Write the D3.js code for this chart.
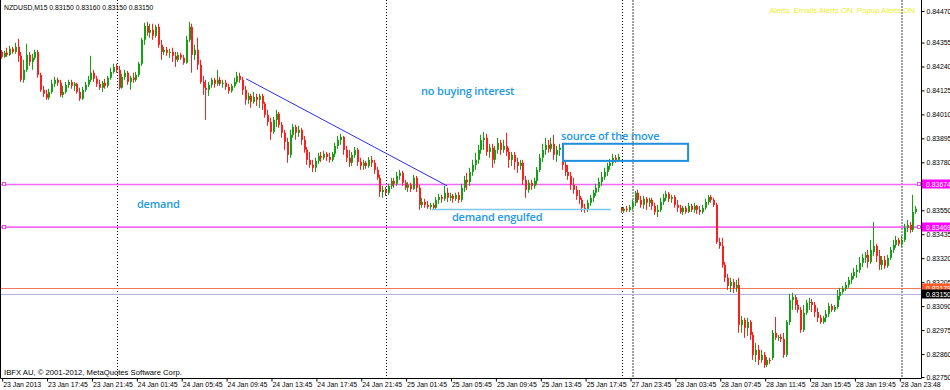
<!DOCTYPE html>
<html>
<head>
<meta charset="utf-8">
<script src="https://cdn.jsdelivr.net/npm/d3@7"></script>
<style>
  body { margin: 0; background: #ffffff; }
  svg { display: block; font-family: Tahoma, "Liberation Sans", Arial, sans-serif; }
</style>
</head>
<body>
<div id="chart"></div>
<script>
// NZDUSD M15, prices in points (1 point = 0.00001)
const opens = [
  84310, 84286, 84306, 84296, 84325, 84310, 84334, 84291, 84176, 84224,
  84296, 84262, 84282, 84310, 84200, 84128, 84109, 84090, 84118, 84157,
  84176, 84162, 84104, 84118, 84152, 84166, 84147, 84157, 84118, 84085,
  84128, 84152, 84176, 84210, 84181, 84157, 84138, 84162, 84147, 84186,
  84214, 84238, 84224, 84138, 84190, 84210, 84166, 84186, 84176, 84200,
  84253, 84368, 84435, 84402, 84416, 84387, 84430, 84344, 84310, 84320,
  84306, 84310, 84291, 84272, 84296, 84282, 84258, 84368, 84430, 84296,
  84320, 84248, 84166, 84138, 84128, 84152, 84176, 84157, 84176, 84157,
  84162, 84142, 84123, 84147, 84166, 84195, 84176, 84128, 84080, 84099,
  84070, 84094, 84080, 84099, 84061, 84008, 83974, 83926, 83984, 84013,
  83960, 83922, 83878, 83816, 83912, 83950, 83922, 83936, 83888, 83840,
  83792, 83768, 83754, 83787, 83811, 83802, 83821, 83806, 83792, 83821,
  83859, 83888, 83902, 83840, 83802, 83778, 83816, 83840, 83782, 83763,
  83778, 83763, 83792, 83778, 83744, 83706, 83638, 83648, 83634, 83667,
  83691, 83677, 83715, 83730, 83682, 83658, 83672, 83653, 83706, 83658,
  83576, 83590, 83576, 83566, 83576, 83562, 83600, 83614, 83605, 83634,
  83610, 83619, 83605, 83624, 83600, 83658, 83696, 83686, 83734, 83768,
  83792, 83840, 83888, 83898, 83830, 83850, 83792, 83840, 83874, 83840,
  83859, 83830, 83792, 83816, 83782, 83763, 83778, 83696, 83648, 83682,
  83667, 83691, 83744, 83802, 83840, 83864, 83845, 83869, 83816, 83840,
  83840, 83768, 83734, 83715, 83672, 83648, 83619, 83600, 83562, 83552,
  83586, 83610, 83634, 83658, 83686, 83710, 83734, 83763, 83778, 83802,
  83792, 83562, 83547, 83557, 83552, 83566, 83586, 83634, 83600, 83576,
  83605, 83586, 83600, 83571, 83542, 83552, 83590, 83610, 83629, 83605,
  83614, 83576, 83562, 83542, 83562, 83542, 83571, 83552, 83571, 83552,
  83542, 83562, 83590, 83614, 83600, 83576, 83398, 83379, 83288, 83226,
  83187, 83206, 83178, 83192, 83000, 83024, 82986, 83014, 82952, 82856,
  82880, 82832, 82856, 82808, 82832, 82842, 82962, 82938, 82942, 82933,
  82856, 83014, 83120, 83134, 83096, 83072, 82976, 83058, 83106, 83110,
  83096, 83062, 83034, 83014, 83034, 83053, 83091, 83072, 83086, 83139,
  83158, 83173, 83192, 83216, 83235, 83254, 83264, 83298, 83322, 83336,
  83302, 83350, 83379, 83331, 83288, 83312, 83283, 83322, 83360, 83384,
  83408, 83389, 83408, 83466, 83480, 83456, 83542,
];
const highs = [
  84320, 84315, 84330, 84339, 84334, 84354, 84373, 84310, 84272, 84349,
  84310, 84301, 84320, 84320, 84210, 84147, 84128, 84133, 84176, 84190,
  84186, 84176, 84147, 84166, 84176, 84176, 84166, 84162, 84138, 84142,
  84166, 84195, 84291, 84224, 84195, 84176, 84171, 84181, 84195, 84234,
  84253, 84253, 84243, 84205, 84224, 84219, 84195, 84210, 84214, 84262,
  84378, 84450, 84454, 84445, 84445, 84440, 84445, 84368, 84334, 84334,
  84325, 84330, 84310, 84310, 84306, 84296, 84387, 84454, 84445, 84344,
  84378, 84272, 84195, 84176, 84166, 84186, 84186, 84224, 84190, 84176,
  84176, 84157, 84157, 84186, 84214, 84210, 84190, 84147, 84114, 84109,
  84118, 84109, 84109, 84109, 84070, 84032, 83994, 83998, 84032, 84022,
  83974, 83936, 83898, 83936, 83965, 83960, 83955, 83946, 83907, 83854,
  83830, 83792, 83802, 83826, 83830, 83835, 83830, 83826, 83830, 83874,
  83907, 83917, 83907, 83859, 83840, 83830, 83854, 83850, 83802, 83792,
  83787, 83806, 83811, 83792, 83758, 83720, 83667, 83662, 83677, 83706,
  83706, 83734, 83744, 83739, 83696, 83686, 83682, 83720, 83715, 83672,
  83610, 83605, 83595, 83586, 83586, 83614, 83629, 83624, 83667, 83658,
  83634, 83629, 83634, 83638, 83677, 83715, 83730, 83754, 83792, 83826,
  83864, 83912, 83926, 83917, 83869, 83869, 83859, 83898, 83888, 83888,
  83922, 83850, 83830, 83830, 83802, 83792, 83792, 83715, 83696, 83696,
  83706, 83758, 83821, 83869, 83898, 83888, 83898, 83912, 83859, 83869,
  83859, 83792, 83768, 83734, 83706, 83667, 83648, 83610, 83581, 83600,
  83624, 83648, 83677, 83706, 83734, 83754, 83778, 83797, 83821, 83816,
  83821, 83566, 83566, 83571, 83576, 83600, 83643, 83648, 83619, 83619,
  83614, 83610, 83610, 83586, 83576, 83610, 83629, 83643, 83638, 83624,
  83624, 83600, 83576, 83571, 83571, 83586, 83581, 83586, 83576, 83571,
  83576, 83605, 83624, 83624, 83610, 83586, 83418, 83418, 83302, 83245,
  83226, 83221, 83216, 83226, 83043, 83034, 83034, 83024, 82966, 82914,
  82904, 82880, 82870, 82846, 82842, 82976, 83038, 82952, 82957, 82962,
  83024, 83149, 83154, 83144, 83120, 83086, 83096, 83120, 83130, 83125,
  83110, 83082, 83048, 83043, 83072, 83106, 83101, 83096, 83168, 83178,
  83187, 83206, 83230, 83250, 83274, 83288, 83326, 83341, 83350, 83360,
  83408, 83494, 83389, 83360, 83331, 83331, 83336, 83374, 83408, 83427,
  83418, 83427, 83485, 83504, 83494, 83624, 83571,
];
const lows = [
  84277, 84282, 84286, 84291, 84301, 84301, 84262, 84166, 84162, 84214,
  84243, 84224, 84272, 84186, 84118, 84094, 84080, 84080, 84109, 84142,
  84147, 84094, 84090, 84109, 84138, 84133, 84123, 84109, 84075, 84080,
  84118, 84142, 84166, 84166, 84142, 84128, 84118, 84133, 84138, 84176,
  84205, 84210, 84128, 84133, 84176, 84152, 84128, 84162, 84166, 84190,
  84243, 84344, 84387, 84378, 84368, 84378, 84330, 84272, 84296, 84291,
  84282, 84262, 84238, 84262, 84272, 84248, 84253, 84358, 84210, 84272,
  84224, 84157, 84104, 83984, 84099, 84138, 84138, 84147, 84147, 84138,
  84128, 84109, 84114, 84138, 84157, 84162, 84104, 84056, 84061, 84042,
  84061, 84051, 84042, 84032, 83994, 83955, 83888, 83917, 83950, 83946,
  83898, 83840, 83778, 83802, 83898, 83888, 83902, 83864, 83826, 83768,
  83754, 83734, 83734, 83773, 83782, 83792, 83787, 83778, 83782, 83806,
  83845, 83864, 83816, 83782, 83758, 83763, 83802, 83763, 83744, 83744,
  83749, 83754, 83758, 83725, 83696, 83614, 83610, 83619, 83624, 83653,
  83658, 83667, 83696, 83667, 83648, 83638, 83638, 83648, 83638, 83552,
  83562, 83562, 83557, 83552, 83552, 83557, 83581, 83586, 83595, 83590,
  83595, 83586, 83595, 83586, 83590, 83638, 83648, 83667, 83715, 83744,
  83773, 83821, 83840, 83811, 83802, 83754, 83773, 83821, 83816, 83826,
  83811, 83754, 83763, 83744, 83730, 83744, 83672, 83610, 83634, 83648,
  83653, 83672, 83734, 83782, 83816, 83826, 83830, 83792, 83782, 83811,
  83744, 83715, 83696, 83648, 83629, 83600, 83581, 83542, 83538, 83542,
  83571, 83590, 83619, 83638, 83667, 83696, 83715, 83744, 83763, 83778,
  83782, 83538, 83538, 83542, 83542, 83552, 83571, 83586, 83562, 83557,
  83552, 83566, 83552, 83528, 83518, 83542, 83576, 83595, 83590, 83586,
  83562, 83542, 83533, 83528, 83533, 83538, 83542, 83538, 83533, 83528,
  83533, 83552, 83576, 83586, 83566, 83389, 83365, 83274, 83206, 83168,
  83158, 83154, 83158, 82962, 82962, 82938, 82947, 82928, 82832, 82822,
  82808, 82818, 82794, 82798, 82813, 82832, 82928, 82923, 82918, 82842,
  82846, 83000, 83072, 83072, 83058, 82962, 82966, 83048, 83072, 83062,
  83038, 83014, 83005, 83005, 83014, 83038, 83062, 83062, 83077, 83120,
  83149, 83163, 83178, 83197, 83221, 83226, 83250, 83278, 83298, 83274,
  83293, 83331, 83302, 83264, 83264, 83269, 83274, 83312, 83346, 83370,
  83379, 83374, 83398, 83446, 83442, 83446, 83533,
];
const closes = [
  84286, 84306, 84296, 84325, 84310, 84334, 84291, 84176, 84224, 84296,
  84262, 84282, 84310, 84200, 84128, 84109, 84090, 84118, 84157, 84176,
  84162, 84104, 84118, 84152, 84166, 84147, 84157, 84118, 84085, 84128,
  84152, 84176, 84210, 84181, 84157, 84138, 84162, 84147, 84186, 84214,
  84238, 84224, 84138, 84190, 84210, 84166, 84186, 84176, 84200, 84253,
  84368, 84435, 84402, 84416, 84387, 84430, 84344, 84310, 84320, 84306,
  84310, 84291, 84272, 84296, 84282, 84258, 84368, 84430, 84296, 84320,
  84248, 84166, 84138, 84128, 84152, 84176, 84157, 84176, 84157, 84162,
  84142, 84123, 84147, 84166, 84195, 84176, 84128, 84080, 84099, 84070,
  84094, 84080, 84099, 84061, 84008, 83974, 83926, 83984, 84013, 83960,
  83922, 83878, 83816, 83912, 83950, 83922, 83936, 83888, 83840, 83792,
  83768, 83754, 83787, 83811, 83802, 83821, 83806, 83792, 83821, 83859,
  83888, 83902, 83840, 83802, 83778, 83816, 83840, 83782, 83763, 83778,
  83763, 83792, 83778, 83744, 83706, 83638, 83648, 83634, 83667, 83691,
  83677, 83715, 83730, 83682, 83658, 83672, 83653, 83706, 83658, 83576,
  83590, 83576, 83566, 83576, 83562, 83600, 83614, 83605, 83634, 83610,
  83619, 83605, 83624, 83600, 83658, 83696, 83686, 83734, 83768, 83792,
  83840, 83888, 83898, 83830, 83850, 83792, 83840, 83874, 83840, 83859,
  83830, 83792, 83816, 83782, 83763, 83778, 83696, 83648, 83682, 83667,
  83691, 83744, 83802, 83840, 83864, 83845, 83869, 83816, 83840, 83850,
  83768, 83734, 83715, 83672, 83648, 83619, 83600, 83562, 83552, 83586,
  83610, 83634, 83658, 83686, 83710, 83734, 83763, 83778, 83802, 83792,
  83806, 83547, 83557, 83552, 83566, 83586, 83634, 83600, 83576, 83605,
  83586, 83600, 83571, 83542, 83552, 83590, 83610, 83629, 83605, 83614,
  83576, 83562, 83542, 83562, 83542, 83571, 83552, 83571, 83552, 83542,
  83562, 83590, 83614, 83600, 83576, 83398, 83379, 83288, 83226, 83187,
  83206, 83178, 83192, 83000, 83024, 82986, 83014, 82952, 82856, 82880,
  82832, 82856, 82808, 82832, 82827, 82962, 82938, 82942, 82933, 82856,
  83014, 83120, 83134, 83096, 83072, 82976, 83058, 83106, 83110, 83096,
  83062, 83034, 83014, 83034, 83053, 83091, 83072, 83086, 83139, 83158,
  83173, 83192, 83216, 83235, 83254, 83264, 83298, 83322, 83336, 83302,
  83360, 83379, 83331, 83288, 83312, 83283, 83322, 83360, 83384, 83408,
  83389, 83408, 83466, 83480, 83456, 83542, 83557,
];

// time axis: one label every 16 bars
const timeLabels = [
  '23 Jan 2013', '23 Jan 17:45', '23 Jan 21:45', '24 Jan 01:45', '24 Jan 05:45',
  '24 Jan 09:45', '24 Jan 13:45', '24 Jan 17:45', '24 Jan 21:45', '25 Jan 01:45',
  '25 Jan 05:45', '25 Jan 09:45', '25 Jan 13:45', '25 Jan 17:45', '27 Jan 23:45',
  '28 Jan 03:45', '28 Jan 07:45', '28 Jan 11:45', '28 Jan 15:45', '28 Jan 19:45',
  '28 Jan 23:48',
];
const priceTicks = [
  0.84470, 0.84355, 0.84240, 0.84125, 0.84010, 0.83895, 0.83780, 0.83550,
  0.83435, 0.83320, 0.83205, 0.83090, 0.82975, 0.82860, 0.82750,
];
const chartHigh = 0.84470; // MT4 pins the max label to the top edge
// day separators (bar index)
const daySeparators = [41, 137, 221];
const userVerticals = [225, 321];
// horizontal levels
const demandLevels = [0.83674, 0.83469];
const stopLevel = 0.83179;
const bidPrice = 0.83150;
// drawn objects: bar index / price
const trendLine = [[87.1, 0.84181], [158.8, 0.83667]];
const engulfLine = [[153.4, 0.83554], [217.2, 0.83554]];
const sourceBox = [[200.1, 0.83869], [244.7, 0.83787]];
const notes = [
  { text: 'no buying interest', bar: 149.5, price: 0.84104 },
  { text: 'source of the move', bar: 199.4, price: 0.83888 },
  { text: 'demand', bar: 48.2, price: 0.83562 },
  { text: 'demand engulfed', bar: 160.5, price: 0.83499 },
];

class CandleChart {
  constructor(_config) {
    this.config = {
      parentElement: _config.parentElement,
      containerWidth: 950,
      containerHeight: 390,
      plotRight: 921,
      plotBottom: 378,
      barStep: 2.805,
    };
    this.data = opens.map((o, i) => ({
      i, o: o / 1e5, h: highs[i] / 1e5, l: lows[i] / 1e5, c: closes[i] / 1e5,
    }));
    this.initVis();
  }

  initVis() {
    const vis = this;
    const cfg = vis.config;

    vis.svg = d3.select(cfg.parentElement).append('svg')
      .attr('width', cfg.containerWidth)
      .attr('height', cfg.containerHeight);

    vis.svg.append('rect')
      .attr('width', cfg.containerWidth)
      .attr('height', cfg.containerHeight)
      .attr('fill', '#ffffff');

    vis.xScale = d3.scaleLinear()
      .domain([0, vis.data.length - 1])
      .range([1.7, 1.7 + (vis.data.length - 1) * cfg.barStep]);

    vis.yScale = d3.scaleLinear()
      .domain([0.82750, 0.84355])
      .range([377, 42.5]);

    vis.gridG = vis.svg.append('g');
    vis.candleG = vis.svg.append('g');
    vis.objG = vis.svg.append('g');
    vis.axisG = vis.svg.append('g');

    vis.renderVis();
  }

  renderVis() {
    const vis = this;
    const cfg = vis.config;
    const x = vis.xScale;
    const y = vis.yScale;
    const px = (i) => Math.round(x(i));

    // separators
    vis.gridG.selectAll('.sep')
      .data(daySeparators)
      .join('line')
      .attr('x1', (d) => px(d) + 0.5).attr('x2', (d) => px(d) + 0.5)
      .attr('y1', 0).attr('y2', cfg.plotBottom)
      .attr('stroke', '#000').attr('stroke-dasharray', '1,2');

    vis.gridG.selectAll('.uv')
      .data(userVerticals)
      .join('line')
      .attr('x1', (d) => px(d)).attr('x2', (d) => px(d))
      .attr('y1', 0).attr('y2', cfg.plotBottom)
      .attr('stroke', '#a2a2a2').attr('stroke-width', 2).attr('stroke-dasharray', '2,1');

    // horizontal levels
    vis.gridG.selectAll('.bid')
      .data([bidPrice])
      .join('line')
      .attr('x1', 0).attr('x2', cfg.plotRight)
      .attr('y1', (d) => Math.round(y(d)) + 0.5).attr('y2', (d) => Math.round(y(d)) + 0.5)
      .attr('stroke', '#b9aee0');

    vis.gridG.selectAll('.stop')
      .data([stopLevel])
      .join('line')
      .attr('x1', 0).attr('x2', cfg.plotRight)
      .attr('y1', (d) => Math.round(y(d)) + 0.5).attr('y2', (d) => Math.round(y(d)) + 0.5)
      .attr('stroke', '#f07a5a');

    vis.gridG.selectAll('.demand')
      .data(demandLevels)
      .join('line')
      .attr('x1', 0).attr('x2', cfg.plotRight)
      .attr('y1', (d) => y(d)).attr('y2', (d) => y(d))
      .attr('stroke', '#f46af4').attr('stroke-width', 1.6);

    vis.gridG.selectAll('.sqL')
      .data(demandLevels.flatMap((d) => [[2, d], [cfg.plotRight - 4, d]]))
      .join('rect')
      .attr('x', (d) => d[0] + 0.5)
      .attr('y', (d) => Math.round(y(d[1])) - 1.5)
      .attr('width', 3).attr('height', 3)
      .attr('fill', '#fff').attr('stroke', '#f046f0');

    // candles
    const up = (d) => d.c >= d.o;
    const candles = vis.candleG.selectAll('g.candle')
      .data(vis.data)
      .join('g')
      .attr('class', 'candle');

    candles.append('line')
      .attr('x1', (d) => px(d.i) - 0.5).attr('x2', (d) => px(d.i) - 0.5)
      .attr('y1', (d) => y(d.h)).attr('y2', (d) => y(d.l))
      .attr('stroke', (d) => (up(d) ? '#13a013' : '#ff1e1e'));

    candles.append('rect')
      .attr('x', (d) => px(d.i) - 1)
      .attr('width', 2)
      .attr('y', (d) => y(Math.max(d.o, d.c)))
      .attr('height', (d) => Math.max(1, Math.abs(y(d.o) - y(d.c))))
      .attr('fill', (d) => (up(d) ? '#13a013' : '#ff1e1e'));

    // drawn objects
    const lineGen = d3.line().x((d) => x(d[0])).y((d) => y(d[1]));
    vis.objG.append('path')
      .attr('d', lineGen(trendLine))
      .attr('fill', 'none').attr('stroke', '#2a2ef0');

    vis.objG.append('path')
      .attr('d', lineGen(engulfLine))
      .attr('fill', 'none').attr('stroke', '#7cc8ee').attr('stroke-width', 1.5);

    vis.objG.append('rect')
      .attr('x', x(sourceBox[0][0]))
      .attr('y', y(sourceBox[0][1]))
      .attr('width', x(sourceBox[1][0]) - x(sourceBox[0][0]))
      .attr('height', y(sourceBox[1][1]) - y(sourceBox[0][1]))
      .attr('fill', 'none').attr('stroke', '#1f8fdc').attr('stroke-width', 2);

    vis.objG.selectAll('.note')
      .data(notes)
      .join('text')
      .attr('x', (d) => x(d.bar))
      .attr('y', (d) => y(d.price))
      .attr('fill', '#2499e4')
      .style('font-family', '"Open Sans", Lato, sans-serif')
      .style('font-size', '11px')
      .style('font-weight', 600)
      .style('letter-spacing', '-0.2px')
      .text((d) => d.text);

    // header texts
    vis.axisG.append('text')
      .attr('x', 4).attr('y', 10)
      .style('font-size', '6.8px')
      .text('NZDUSD,M15  0.83150 0.83160 0.83150 0.83150');

    vis.axisG.append('text')
      .attr('x', 915).attr('y', 13)
      .attr('text-anchor', 'end')
      .attr('fill', '#eded2a')
      .style('font-size', '7.8px')
      .text('Alerts:  Emails Alerts ON.  Popup Alerts ON');

    vis.axisG.append('text')
      .attr('x', 4).attr('y', 375)
      .style('font-size', '7.7px')
      .text('IBFX AU, \u00a9 2001-2012, MetaQuotes Software Corp.');

    // frame
    vis.axisG.append('path')
      .attr('d', `M0.5,0V${cfg.plotBottom + 0.5}H${cfg.plotRight + 0.5}V0`)
      .attr('fill', 'none').attr('stroke', '#000');

    // price axis
    const yAxis = d3.axisRight(y)
      .tickValues(priceTicks)
      .tickSize(3)
      .tickPadding(2)
      .tickFormat(d3.format('.5f'));
    const yAxisG = vis.axisG.append('g')
      .attr('transform', `translate(${cfg.plotRight + 0.5},0)`)
      .call(yAxis);
    yAxisG.select('.domain').remove();
    yAxisG.selectAll('.tick')
      .filter((d) => d === chartHigh)
      .attr('transform', 'translate(0,11.5)');
    yAxisG.selectAll('text').style('font-size', '6.9px').style('font-family', 'Tahoma, "Liberation Sans", Arial, sans-serif');

    // time axis
    const labelBars = timeLabels.map((t, k) => k * 16);
    const xAxis = d3.axisBottom(x)
      .tickValues(labelBars)
      .tickSize(3)
      .tickFormat((d, k) => timeLabels[k]);
    const xAxisG = vis.axisG.append('g')
      .attr('transform', `translate(0,${cfg.plotBottom + 0.5})`)
      .call(xAxis);
    xAxisG.select('.domain').remove();
    xAxisG.selectAll('.tick line').attr('transform', 'translate(0.5,0)');
    xAxisG.selectAll('text')
      .attr('text-anchor', 'start')
      .attr('dx', 1)
      .attr('y', 4)
      .style('font-size', '6.9px')
      .style('font-family', 'Tahoma, "Liberation Sans", Arial, sans-serif');

    // price tags
    const tags = [
      ...demandLevels.map((p) => ({ p, bg: '#ff00ff' })),
      { p: stopLevel, bg: '#ff5a28' },
      { p: bidPrice, bg: '#000000' },
    ];
    const tagG = vis.axisG.selectAll('.tag')
      .data(tags)
      .join('g')
      .attr('transform', (d) => `translate(${cfg.plotRight + 1},${Math.round(y(d.p))})`);
    tagG.append('rect')
      .attr('x', 0).attr('y', -4.5)
      .attr('width', 29).attr('height', 9)
      .attr('fill', (d) => d.bg);
    tagG.append('text')
      .attr('x', 4).attr('y', 2.6)
      .attr('fill', '#fff')
      .style('font-size', '6.9px')
      .text((d) => d3.format('.5f')(d.p));
  }
}

const chart = new CandleChart({ parentElement: '#chart' });
</script>
</body>
</html>
